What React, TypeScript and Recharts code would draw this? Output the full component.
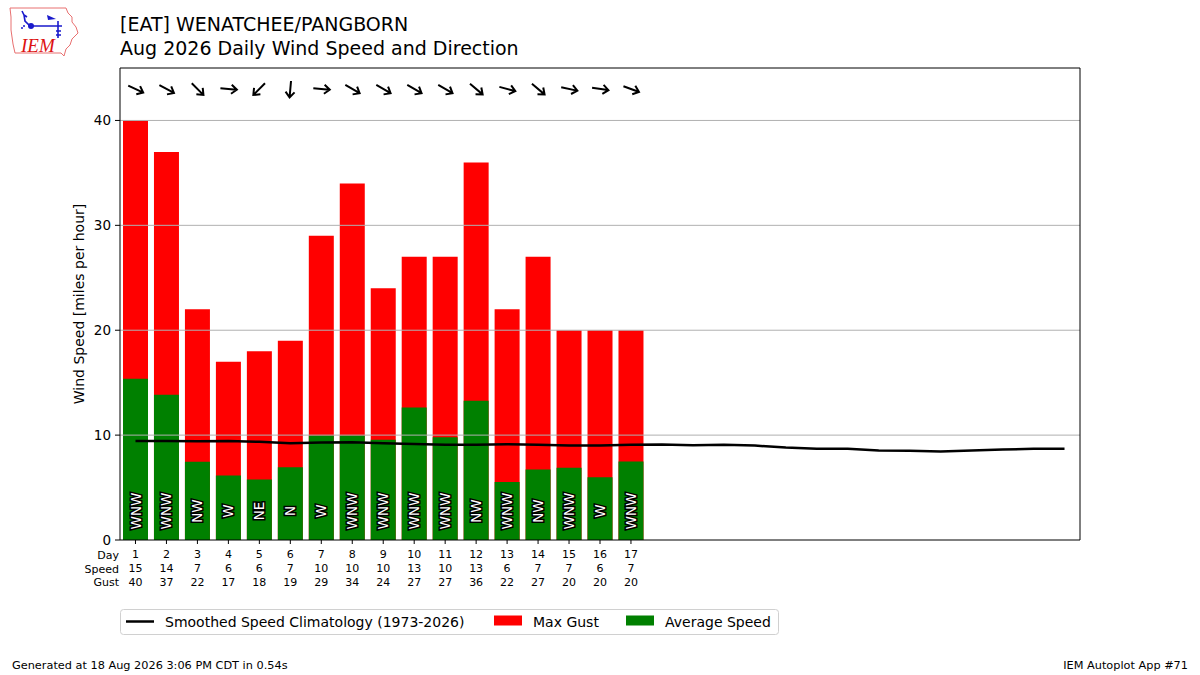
import React from 'react';
import {
    ComposedChart,
    Bar,
    Line,
    Scatter,
    XAxis,
    YAxis,
    ReferenceLine,
    LabelList
} from 'recharts';

// day of month, whole August
const days = [1, 2, 3, 4, 5, 6, 7, 8, 9, 10, 11, 12, 13, 14, 15, 16, 17, 18, 19, 20, 21, 22, 23, 24, 25, 26, 27, 28, 29, 30, 31];
// observed days only (1-17)
const gust = [40, 37, 22, 17, 18, 19, 29, 34, 24, 27, 27, 36, 22, 27, 20, 20, 20];
const avgSpeed = [15.37, 13.84, 7.45, 6.14, 5.76, 6.94, 9.96, 9.96, 9.55, 12.63, 9.8, 13.27, 5.54, 6.71, 6.9, 5.98, 7.48];
const dirDeg = [295, 298, 315, 275, 45, 5, 275, 300, 300, 300, 300, 310, 285, 310, 282, 278, 290];
const dirLabel = ['WNW', 'WNW', 'NW', 'W', 'NE', 'N', 'W', 'WNW', 'WNW', 'WNW', 'WNW', 'NW', 'WNW', 'NW', 'WNW', 'W', 'WNW'];
const climo = [9.45, 9.44, 9.42, 9.45, 9.36, 9.23, 9.29, 9.32, 9.23, 9.16, 9.07, 9.07, 9.13, 9.07, 9.0, 9.0, 9.07, 9.1, 9.04, 9.07, 9.0, 8.81, 8.69, 8.69, 8.53, 8.5, 8.43, 8.53, 8.63, 8.69, 8.69];
const yTicks = [0, 10, 20, 30, 40];
const gridValues = [10, 20, 30, 40];
const ARROW_LEVEL = 43;

const rows = days.map((d, i) => ({
    day: d,
    gust: i < gust.length ? gust[i] : null,
    avg: i < avgSpeed.length ? avgSpeed[i] : null,
    dir: i < dirDeg.length ? dirDeg[i] : null,
    arrow: i < dirDeg.length ? ARROW_LEVEL : null,
    climo: climo[i]
}));

const FONT = '"DejaVu Sans", sans-serif';

const TableTick = ({ x, y, payload }) => {
    const i = payload.value - 1;
    return (
        <g fontFamily={FONT} fontSize={11} fill="#000" textAnchor="middle">
            <text x={x} y={y + 12}>{payload.value}</text>
            <text x={x} y={y + 26}>{Math.round(avgSpeed[i])}</text>
            <text x={x} y={y + 39.5}>{gust[i]}</text>
        </g>
    );
};

const ArrowShape = ({ cx, cy, payload }) => {
    if (payload.dir == null) return null;
    const ang = payload.dir + 90;
    return (
        <g transform={`translate(${cx},${cy}) rotate(${ang})`}>
            <path d="M-8,0 L8,0 M3,-4.5 L8.5,0 L3,4.5" fill="none" stroke="#000" strokeWidth={2} />
        </g>
    );
};

const DirLabel = (props) => {
    const { x, y, width, height, index } = props;
    if (dirLabel[index] == null) return null;
    const cx = x + width / 2;
    const cy = y + height - 29;
    return (
        <text
            x={cx}
            y={cy}
            transform={`rotate(-90 ${cx} ${cy})`}
            textAnchor="middle"
            dominantBaseline="central"
            fontFamily={FONT}
            fontSize={13.5}
            fill="#fff"
            stroke="#000"
            strokeWidth={3}
            paintOrder="stroke"
        >
            {dirLabel[index]}
        </text>
    );
};

const Overlay = () => (
    <svg width={1200} height={675} style={{ position: 'absolute', left: 0, top: 0, pointerEvents: 'none' }} fontFamily={FONT}>
        {/* rough IEM logo */}
        <g>
            <path d="M10,8 L66,8 L68,13 L72,17 L72,22 L76,27 L78,33 L72,39 L70,45 L66,49 L64,56 L61,53 L15,53 L13,44 L11,30 L11,17 Z" fill="none" stroke="#e87070" strokeWidth={1} />
            <path d="M22,11 L24,15 L27,17 M24,15 L25,21 L30,26 L62,26 M58,21 L58,38 M56,31 L61,31 M56,35 L61,35" fill="none" stroke="#1a1acc" strokeWidth={1.6} />
            <path d="M47,15 L56,19 L48,20 Z" fill="#1a1acc" />
            <circle cx={31} cy={26} r={3} fill="#1a1acc" />
            <circle cx={24} cy={26} r={1} fill="#1a1acc" />
            <circle cx={22} cy={28} r={1} fill="#1a1acc" />
            <text x={21} y={52} fill="#dd1111" fontSize={19} fontStyle="italic" fontFamily="'Liberation Serif', serif">IEM</text>
        </g>
        <text x={120} y={31} fontSize={19}>[EAT] WENATCHEE/PANGBORN</text>
        <text x={120} y={55} fontSize={19}>Aug 2026 Daily Wind Speed and Direction</text>
        <text transform="rotate(-90 84 304)" x={84} y={304} fontSize={14} textAnchor="middle">Wind Speed [miles per hour]</text>
        <g fontSize={11} textAnchor="end">
            <text x={119} y={559}>Day</text>
            <text x={119} y={573}>Speed</text>
            <text x={119} y={586}>Gust</text>
        </g>
        <rect x={120.5} y={609.5} width={658} height={25} rx={3} fill="#fff" stroke="#d0d0d0" />
        <line x1={126} x2={154} y1={621.5} y2={621.5} stroke="#000" strokeWidth={2.5} />
        <text x={165} y={626.5} fontSize={14}>Smoothed Speed Climatology (1973-2026)</text>
        <rect x={494} y={615.5} width={28} height={10} fill="#ff0000" />
        <text x={533} y={626.5} fontSize={14}>Max Gust</text>
        <rect x={626} y={615.5} width={28} height={10} fill="#008000" />
        <text x={665} y={626.5} fontSize={14}>Average Speed</text>
        <text x={12} y={669} fontSize={11.3}>Generated at 18 Aug 2026 3:06 PM CDT in 0.54s</text>
        <text x={1188} y={669} fontSize={11.3} textAnchor="end">IEM Autoplot App #71</text>
    </svg>
);

export default function App() {
    return (
        <div style={{ position: 'absolute', left: 0, top: 0, width: 1200, height: 675, background: '#fff' }}>
            <ComposedChart width={1200} height={675} data={rows} margin={{ top: 68, right: 120, bottom: 85, left: 80 }}>
                <XAxis
                    xAxisId="a"
                    dataKey="day"
                    type="number"
                    domain={[0.5, 31.5]}
                    ticks={days.slice(0, gust.length)}
                    interval={0}
                    tick={<TableTick />}
                    tickSize={4}
                    height={50}
                    axisLine={{ stroke: '#000' }}
                    tickLine={{ stroke: '#000' }}
                />
                <XAxis xAxisId="b" dataKey="day" type="number" domain={[0.5, 31.5]} hide />
                <YAxis
                    domain={[0, 45]}
                    ticks={yTicks}
                    width={40}
                    tickSize={5}
                    tickMargin={4}
                    tick={{ fill: '#000', fontSize: 13.5, fontFamily: FONT }}
                    axisLine={{ stroke: '#000' }}
                    tickLine={{ stroke: '#000' }}
                />
                <Bar xAxisId="a" dataKey="gust" fill="#ff0000" barSize={25} isAnimationActive={false} />
                <Bar xAxisId="b" dataKey="avg" fill="#008000" barSize={25} isAnimationActive={false}>
                    <LabelList dataKey="avg" content={<DirLabel />} />
                </Bar>
                {gridValues.map((v) => (
                    <ReferenceLine key={v} xAxisId="a" y={v} stroke="#b0b0b0" strokeWidth={1} />
                ))}
                <ReferenceLine xAxisId="a" y={45} stroke="#000" strokeWidth={1} />
                <ReferenceLine xAxisId="a" x={31.5} stroke="#000" strokeWidth={1} />
                <Line
                    xAxisId="a"
                    type="linear"
                    dataKey="climo"
                    stroke="#000"
                    strokeWidth={2.5}
                    dot={false}
                    isAnimationActive={false}
                />
                <Scatter xAxisId="a" dataKey="arrow" shape={<ArrowShape />} isAnimationActive={false} />
            </ComposedChart>
            <Overlay />
        </div>
    );
}
